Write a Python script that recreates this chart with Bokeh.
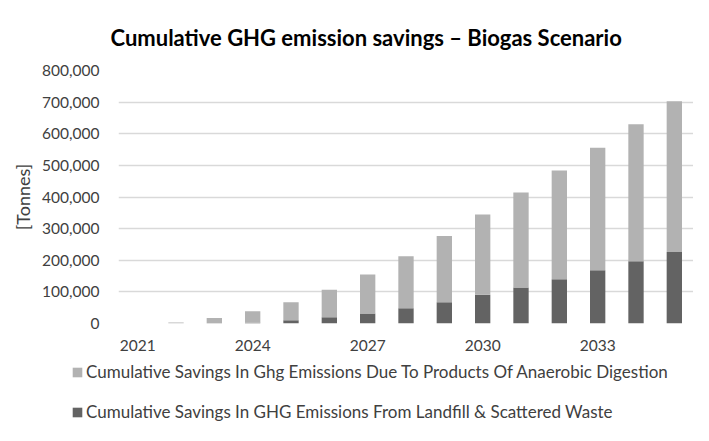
from bokeh.plotting import figure
from bokeh.layouts import column
from bokeh.models import (Range1d, FixedTicker, NumeralTickFormatter,
                          Legend, LegendItem, Title)
from bokeh.embed import file_html
from bokeh.resources import INLINE

years = list(range(2021, 2036))
landfill = [0, 300, 500, 2000, 10000, 20000, 32000, 48000, 67000, 91000,
            114000, 140000, 168000, 197000, 226000]
digestion = [0, 2700, 16500, 37000, 57000, 87000, 123000, 165000, 210000, 254000,
             300000, 344000, 388000, 433000, 477000]
tick_years = [2021, 2024, 2027, 2030, 2033]
series_names = ["Cumulative Savings In Ghg Emissions Due To Products Of Anaerobic Digestion",
                "Cumulative Savings In GHG Emissions From Landfill & Scattered Waste"]
colors = {"digestion": "#b2b2b2", "landfill": "#636363"}

FONT = "Lato"
TXT = "#404040"

p = figure(width=693, height=360, output_backend="svg", toolbar_location=None,
           x_range=Range1d(2020.5, 2035.5), y_range=Range1d(0, 800000),
           min_border_left=118, min_border_right=0, min_border_top=70,
           min_border_bottom=37)
p.frame_align = False
p.outline_line_color = None
p.xgrid.grid_line_color = None
p.ygrid.grid_line_color = "#d9d9d9"
p.ygrid.grid_line_width = 1.5

data = {"year": years, "landfill": landfill, "digestion": digestion}
r = p.vbar_stack(["landfill", "digestion"], x="year", width=0.4, source=data,
                 color=[colors["landfill"], colors["digestion"]], line_color=None)

yax = p.yaxis[0]
yax.ticker = FixedTicker(ticks=list(range(0, 800001, 100000)))
yax.formatter = NumeralTickFormatter(format="0,0")
yax.axis_line_color = None
yax.major_tick_line_color = None
yax.minor_tick_line_color = None
yax.major_tick_out = 0
yax.major_tick_in = 0
yax.major_label_standoff = 19
yax.major_label_text_font = FONT
yax.major_label_text_font_size = "15.5px"
yax.major_label_text_color = TXT
yax.axis_label = "[Tonnes]"
yax.axis_label_text_font = FONT
yax.axis_label_text_font_size = "18px"
yax.axis_label_text_font_style = "normal"
yax.axis_label_text_color = TXT
yax.axis_label_standoff = 5

xax = p.xaxis[0]
xax.ticker = FixedTicker(ticks=tick_years)
xax.axis_line_color = None
xax.major_tick_line_color = None
xax.minor_tick_line_color = None
xax.major_tick_out = 0
xax.major_tick_in = 0
xax.major_label_standoff = 16
xax.major_label_text_font = FONT
xax.major_label_text_font_size = "15.5px"
xax.major_label_text_color = TXT

p.title = Title(text="Cumulative GHG emission savings \u2013 Biogas Scenario",
                align="left", offset=-8, text_font=FONT, text_font_size="22px",
                text_font_style="bold", text_color="#000000", standoff=40)

# legend strip below the chart (keys only, zero-size dummy glyphs)
lg = figure(width=693, height=65, output_backend="svg", toolbar_location=None,
            x_range=Range1d(0, 1), y_range=Range1d(0, 1),
            x_axis_location=None, y_axis_location=None,
            min_border_left=0, min_border_right=0, min_border_top=0,
            min_border_bottom=0)
lg.frame_align = False
lg.outline_line_color = None
lg.xgrid.grid_line_color = None
lg.ygrid.grid_line_color = None
k_dig = lg.vbar(x=[0.5], top=[0], bottom=[0], width=0.0, fill_color=colors["digestion"],
                line_color=None)
k_lan = lg.vbar(x=[0.5], top=[0], bottom=[0], width=0.0, fill_color=colors["landfill"],
                line_color=None)

legend = Legend(items=[LegendItem(label=series_names[0], renderers=[k_dig]),
                       LegendItem(label=series_names[1], renderers=[k_lan])],
                location=(71, 3), orientation="vertical",
                glyph_width=12, glyph_height=12, label_standoff=3,
                spacing=19, padding=0, margin=0,
                border_line_color=None, background_fill_alpha=0,
                label_text_font=FONT, label_text_font_size="17px",
                label_text_color=TXT)
lg.add_layout(legend, "center")

open("out.html", "w").write(file_html(column(p, lg, spacing=0), INLINE))
